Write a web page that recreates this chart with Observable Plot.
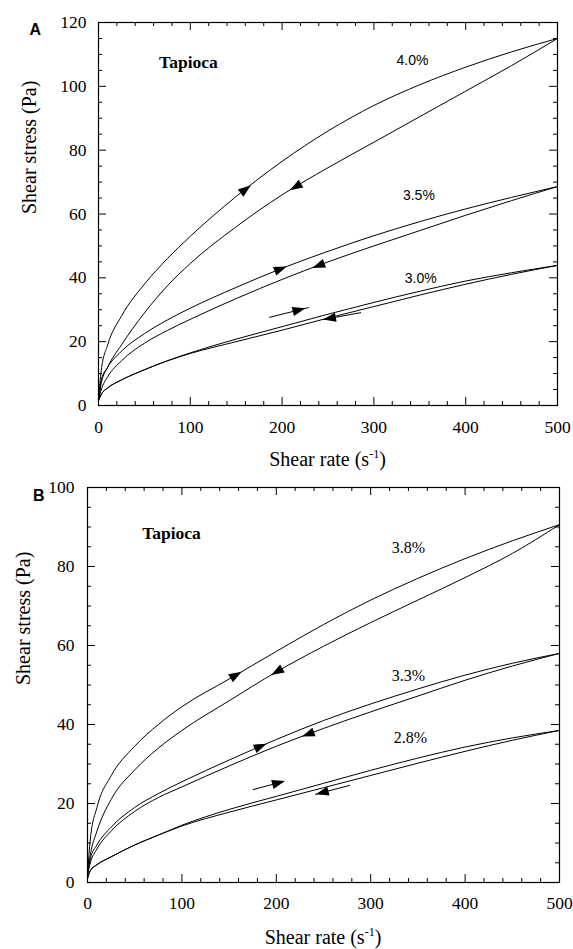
<!DOCTYPE html>
<html><head><meta charset="utf-8">
<script src="https://cdn.jsdelivr.net/npm/d3@7"></script>
<script src="https://cdn.jsdelivr.net/npm/@observablehq/plot@0.6"></script>
<style>
html,body{margin:0;padding:0;background:#fff;}
#wrap{position:relative;width:573px;height:949px;overflow:hidden;background:#fff;}
#wrap svg{position:absolute;left:0;}
</style></head><body><div id="wrap"></div>
<script>
const SERIF = "'Liberation Serif', 'Times New Roman', Times, serif";
const SANS = "'Liberation Sans', Arial, Helvetica, sans-serif";
// ---------- shared ----------
const shearRate = [0, 3, 10, 25, 50, 75, 100, 150, 200, 250, 300, 350, 400, 450, 500];
const xTicks = [0, 100, 200, 300, 400, 500];
const yTicksA = [0, 20, 40, 60, 80, 100, 120];
const yTicksB = [0, 20, 40, 60, 80, 100];

// ---------- Panel A (shear stress, Pa) ----------
const a40Up   = [2, 11, 19, 28, 38, 46, 53, 65.5, 76.5, 86, 94, 100.5, 106, 110.8, 115];
const a40Down = [2, 7, 12, 19, 29, 37.5, 44.5, 56, 66, 74.5, 82.5, 90.5, 98.5, 106.5, 115];
const a35Up   = [2, 8, 12, 17, 22.5, 26.8, 30.5, 37, 43, 48.3, 53.2, 57.6, 61.6, 65.2, 68.6];
const a35Down = [2, 5, 9, 14, 19.5, 23.5, 27, 33.5, 39.5, 45, 50, 54.8, 59.6, 64.2, 68.6];
const a30Up   = [1.5, 3.5, 5.5, 8, 11.2, 14, 16.5, 20.8, 24.7, 28.6, 32.3, 35.8, 39, 41.6, 43.9];
const a30Down = [1.5, 3.5, 5.5, 8, 11.2, 14, 16.3, 20, 23.6, 27.4, 31, 34.6, 38, 41.1, 43.9];
const labelsA = [
  {text: "4.0%", x: 342, y: 108},
  {text: "3.5%", x: 349, y: 65.8},
  {text: "3.0%", x: 351, y: 39.8}
];
const curveArrowsA = [ // [series, x, direction]
  ["a40Up", 160, 1], ["a40Down", 215, -1], ["a35Up", 198, 1], ["a35Down", 240, -1]
];
const freeArrowsA = [ // x1,y1 -> x2,y2, head x
  {x1: 186, y1: 27.6, x2: 229, y2: 30.7, hx: 218},
  {x1: 286, y1: 29.1, x2: 246, y2: 27.0, hx: 252}
];

// ---------- Panel B ----------
const b38Up   = [2, 11, 19, 27, 34.5, 40, 44.5, 51.5, 58.5, 65.3, 71.5, 77, 82, 86.5, 90.6];
const b38Down = [2, 7, 13, 21, 28.5, 34, 38.5, 46, 53.3, 59.8, 65.8, 71.5, 77.2, 83.3, 90.6];
const b33Up   = [2, 6, 9.5, 14, 19, 22.5, 25.5, 31, 36.2, 41, 45.2, 49, 52.5, 55.5, 58];
const b33Down = [2, 5, 8.5, 13, 18, 21.5, 24.2, 29.5, 34.5, 39, 43.2, 47.2, 51.2, 54.8, 58];
const b28Up   = [1, 3, 4.5, 6.5, 9.5, 12, 14.5, 18.5, 21.8, 25.1, 28.4, 31.5, 34.3, 36.6, 38.5];
const b28Down = [1, 3, 4.5, 6.5, 9.5, 12, 14.3, 17.8, 20.9, 24, 27.1, 30.2, 33.2, 36, 38.5];
const labelsB = [
  {text: "3.8%", x: 340, y: 84.8},
  {text: "3.3%", x: 340, y: 52.4},
  {text: "2.8%", x: 342, y: 36.5}
];
const curveArrowsB = [
  ["b38Up", 157, 1], ["b38Down", 201, -1], ["b33Up", 183, 1], ["b33Down", 234, -1]
];
const freeArrowsB = [
  {x1: 175, y1: 23.5, x2: 208, y2: 25.6, hx: 202},
  {x1: 278, y1: 24.6, x2: 241, y2: 22.3, hx: 249}
];

const seriesA = {a40Up, a40Down, a35Up, a35Down, a30Up, a30Down};
const seriesB = {b38Up, b38Down, b33Up, b33Down, b28Up, b28Down};

// ---------- helpers ----------
function interp(xs, ys, x) {
  for (let i = 1; i < xs.length; i++) {
    if (x <= xs[i]) {
      const t = (x - xs[i-1]) / (xs[i] - xs[i-1]);
      return ys[i-1] + t * (ys[i] - ys[i-1]);
    }
  }
  return ys[ys.length - 1];
}
const headSymbol = {
  draw(ctx) {
    ctx.moveTo(7, 0);
    ctx.lineTo(-6, -4.6);
    ctx.lineTo(-6, 4.6);
    ctx.closePath();
  }
};

function panel(cfg) {
  const W = 573;
  const plotW = W - cfg.ml - cfg.mr;
  const plotH = cfg.height - cfg.mt - cfg.mb;
  const kx = plotW / 500, ky = plotH / cfg.ymax;
  const rows = [];
  for (const [id, ys] of Object.entries(cfg.series))
    shearRate.forEach((x, i) => rows.push({id, x, y: ys[i]}));
  const heads = [];
  for (const [id, x0, dir] of cfg.curveArrows) {
    const ys = cfg.series[id];
    const y0 = interp(shearRate, ys, x0);
    const slope = (interp(shearRate, ys, x0 + 8) - interp(shearRate, ys, x0 - 8)) / 16;
    let ang = Math.atan2(-slope * ky, kx) * 180 / Math.PI;
    if (dir < 0) ang += 180;
    heads.push({x: x0, y: y0, angle: ang});
  }
  for (const s of cfg.freeArrows) {
    const t = (s.hx - s.x1) / (s.x2 - s.x1);
    const hy = s.y1 + t * (s.y2 - s.y1);
    const ang = Math.atan2(-(s.y2 - s.y1) * ky, (s.x2 - s.x1) * kx) * 180 / Math.PI;
    heads.push({x: s.hx, y: hy, angle: ang});
  }
  const xMinor = d3.range(0, 501, 20).filter(v => v % 100 !== 0);
  const yMinor = d3.range(0, cfg.ymax + 0.1, 5).filter(v => v % 20 !== 0);
  const svg = Plot.plot({
    width: W, height: cfg.height,
    marginLeft: cfg.ml, marginRight: cfg.mr, marginTop: cfg.mt, marginBottom: cfg.mb,
    style: `font-family: ${SERIF}; font-size: 17.5px; color: black; background: white; overflow: visible;`,
    x: {domain: [0, 500]},
    y: {domain: [0, cfg.ymax]},
    marks: [
      // inward ticks on all four sides
      Plot.ruleX(xMinor, {insetTop: plotH - 4, stroke: "black"}),
      Plot.ruleX(xTicks, {insetTop: plotH - 8, stroke: "black"}),
      Plot.ruleX(xMinor, {insetBottom: plotH - 4, stroke: "black"}),
      Plot.ruleX(xTicks, {insetBottom: plotH - 8, stroke: "black"}),
      Plot.ruleY(yMinor, {insetRight: plotW - 4, stroke: "black"}),
      Plot.ruleY(cfg.yTicks, {insetRight: plotW - 8, stroke: "black"}),
      Plot.ruleY(yMinor, {insetLeft: plotW - 4, stroke: "black"}),
      Plot.ruleY(cfg.yTicks, {insetLeft: plotW - 8, stroke: "black"}),
      Plot.frame({stroke: "black", strokeWidth: 1.2}),
      Plot.axisX(xTicks, {tickSize: 0, tickPadding: cfg.xPad, label: null, fontSize: 17.5}),
      Plot.axisY(cfg.yTicks, {tickSize: 0, tickPadding: cfg.yPad, label: null, fontSize: 17.5}),
      Plot.line(rows, {x: "x", y: "y", z: "id", stroke: "black", strokeWidth: 1, curve: "monotone-x"}),
      Plot.link(cfg.freeArrows, {x1: "x1", y1: "y1", x2: "x2", y2: "y2", stroke: "black", strokeWidth: 1}),
      Plot.dot(heads, {x: "x", y: "y", rotate: "angle", symbol: headSymbol, fill: "black", stroke: "none"}),
      Plot.text(cfg.labels, {x: "x", y: "y", text: "text", fontSize: cfg.pctSize, fontFamily: cfg.pctFont}),
      Plot.text([cfg.tapioca], {x: "x", y: "y", text: "text", fontSize: 17.5, fontWeight: "bold", fontFamily: SERIF}),
      Plot.text(["Shear stress (Pa)"], {frameAnchor: "left", rotate: -90, dx: cfg.ytDx, fontSize: 20, fontFamily: SERIF}),
      Plot.text([cfg.letter], {frameAnchor: "top-left", dx: cfg.letterDx, dy: cfg.letterDy, fontSize: 16, fontWeight: "bold", fontFamily: SANS})
    ]
  });
  const t = d3.select(svg).append("text")
    .attr("x", cfg.ml + plotW / 2)
    .attr("y", cfg.mt + plotH + cfg.xtOff)
    .attr("text-anchor", "middle")
    .style("font-family", SERIF)
    .attr("font-size", 20)
    .attr("fill", "black");
  t.append("tspan").text("Shear rate (s");
  t.append("tspan").attr("dy", -8).attr("font-size", 12).text("-1");
  t.append("tspan").attr("dy", 8).text(")");
  svg.style.top = cfg.top + "px";
  return svg;
}

const wrap = document.getElementById("wrap");
wrap.appendChild(panel({
  top: 0, height: 475, ml: 98, mr: 16, mt: 22, mb: 70, ymax: 120, yTicks: yTicksA,
  series: seriesA, curveArrows: curveArrowsA, freeArrows: freeArrowsA, labels: labelsA,
  tapioca: {text: "Tapioca", x: 98, y: 107.5}, letter: "A", letterDx: -69, letterDy: 1,
  pctFont: SANS, pctSize: 14, xPad: 15, yPad: 12, ytDx: -69, xtOff: 61
}));
wrap.appendChild(panel({
  top: 475, height: 474, ml: 87, mr: 14, mt: 12, mb: 67, ymax: 100, yTicks: yTicksB,
  series: seriesB, curveArrows: curveArrowsB, freeArrows: freeArrowsB, labels: labelsB,
  tapioca: {text: "Tapioca", x: 89, y: 88.4}, letter: "B", letterDx: -54.5, letterDy: 2,
  pctFont: SERIF, pctSize: 16, xPad: 14, yPad: 13, ytDx: -64, xtOff: 62
}));
</script>
</body></html>
